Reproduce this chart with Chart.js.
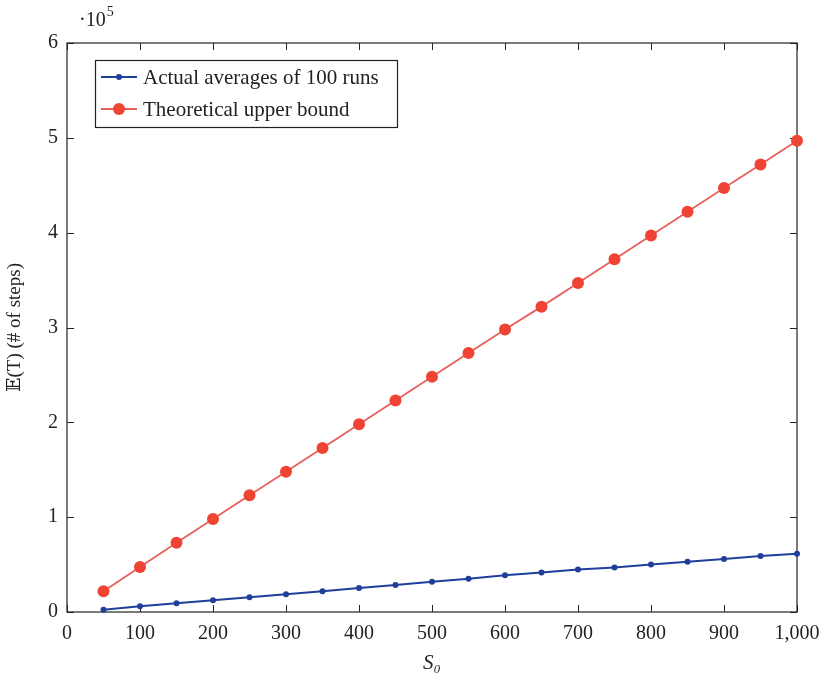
<!DOCTYPE html>
<html>
<head>
<meta charset="utf-8">
<script src="https://cdn.jsdelivr.net/npm/chart.js@4/dist/chart.umd.min.js"></script>
<style>
html,body{margin:0;padding:0;background:#fff;}
#wrap{width:822px;height:680px;position:relative;}
</style>
</head>
<body>
<div id="wrap"><canvas id="c" width="822" height="680"></canvas></div>
<script>
// ---- data ----
const s0Values = [50,100,150,200,250,300,350,400,450,500,550,600,650,700,750,800,850,900,950,1000];
const actualAverages = [2400,6000,9200,12400,15500,18600,22000,25300,28500,31800,35000,38700,41600,44700,47000,50000,53000,56000,59000,61500];
const theoreticalBound = [22000,47500,73000,98000,123000,148000,173000,198000,223000,248000,273000,298000,322000,347000,372000,397000,422000,447000,472000,497000];
const xTicks = [0,100,200,300,400,500,600,700,800,900,1000];
const yTicks = [0,100000,200000,300000,400000,500000,600000];
const seriesLabels = ['Actual averages of 100 runs','Theoretical upper bound'];

const SERIF = "'Liberation Serif','DejaVu Serif',serif";

const framePlugin = {
  id:'frame',
  beforeDatasetsDraw(chart){
    const {ctx, chartArea:a, scales:{x,y}} = chart;
    ctx.save();
    ctx.strokeStyle='#222';
    ctx.lineWidth=1.2;
    ctx.strokeRect(a.left, a.top, a.right-a.left, a.bottom-a.top);
    const L=7;
    ctx.beginPath();
    xTicks.forEach(v=>{
      const px=Math.round(x.getPixelForValue(v))+0.5;
      ctx.moveTo(px,a.bottom); ctx.lineTo(px,a.bottom-L);
      ctx.moveTo(px,a.top); ctx.lineTo(px,a.top+L);
    });
    yTicks.forEach(v=>{
      const py=Math.round(y.getPixelForValue(v))+0.5;
      ctx.moveTo(a.left,py); ctx.lineTo(a.left+L,py);
      ctx.moveTo(a.right,py); ctx.lineTo(a.right-L,py);
    });
    ctx.lineWidth=1;
    ctx.stroke();
    ctx.restore();
  },
  afterDatasetsDraw(chart){
    const {ctx, chartArea:a} = chart;
    ctx.save();
    // exponent label
    ctx.fillStyle='#222';
    ctx.textBaseline='alphabetic';
    ctx.textAlign='left';
    ctx.font='20px '+SERIF;
    ctx.fillText('\u00b710', a.left+12, 26);
    const w=ctx.measureText('\u00b710').width;
    ctx.font='14px '+SERIF;
    ctx.fillText('5', a.left+12+w+1, 16);
    // legend
    const bx=a.left+28, by=a.top+17, bw=302, bh=67;
    ctx.fillStyle='#fff';
    ctx.fillRect(bx,by,bw,bh);
    ctx.strokeStyle='#222';
    ctx.lineWidth=1.2;
    ctx.strokeRect(bx+0.5,by+0.5,bw,bh);
    chart.data.datasets.forEach((ds,i)=>{
      const cy=by+17+i*32;
      ctx.strokeStyle=ds.borderColor;
      ctx.lineWidth=ds.borderWidth;
      ctx.beginPath(); ctx.moveTo(bx+6,cy); ctx.lineTo(bx+42,cy); ctx.stroke();
      ctx.fillStyle=ds.pointBackgroundColor;
      ctx.beginPath(); ctx.arc(bx+24,cy,ds.pointRadius,0,Math.PI*2); ctx.fill();
      ctx.fillStyle='#222';
      ctx.font='21px '+SERIF;
      ctx.textBaseline='middle';
      ctx.fillText(ds.label, bx+48, cy+1);
    });
    ctx.restore();
  }
};

new Chart(document.getElementById('c'),{
  type:'line',
  data:{
    datasets:[
      {label:seriesLabels[0], data:s0Values.map((v,i)=>({x:v,y:actualAverages[i]})),
       borderColor:'#1f3f9a', backgroundColor:'#1f3f9a', pointBackgroundColor:'#1f3f9a', pointBorderColor:'#1f3f9a',
       borderWidth:2, pointRadius:3, pointBorderWidth:0, tension:0, order:1, clip:false},
      {label:seriesLabels[1], data:s0Values.map((v,i)=>({x:v,y:theoreticalBound[i]})),
       borderColor:'#e8605a', backgroundColor:'#ef4434', pointBackgroundColor:'#ef4434', pointBorderColor:'#ef4434',
       borderWidth:1.8, pointRadius:6, pointBorderWidth:0, tension:0, order:2, clip:false}
    ]
  },
  options:{
    responsive:false,
    animation:false,
    layout:{padding:{top:43,right:25,left:0,bottom:0}},
    plugins:{legend:{display:false},tooltip:{enabled:false}},
    scales:{
      x:{type:'linear',min:0,max:1000,
         afterBuildTicks:s=>{s.ticks=xTicks.map(v=>({value:v}));},
         afterFit:s=>{s.height=68;s.paddingLeft=0;s.paddingRight=0;},
         grid:{display:false,drawTicks:false},
         border:{display:false},
         ticks:{color:'#222',font:{family:SERIF,size:20},padding:10,maxRotation:0,autoSkip:false,
                callback:v=>v.toLocaleString('en-US')},
         title:{display:true,text:'S\u2080',color:'#222',font:{family:SERIF,size:21,style:'italic'},padding:{top:4}}
      },
      y:{type:'linear',min:0,max:600000,
         afterBuildTicks:s=>{s.ticks=yTicks.map(v=>({value:v}));},
         afterFit:s=>{s.width=67;s.paddingTop=0;s.paddingBottom=0;},
         grid:{display:false,drawTicks:false},
         border:{display:false},
         ticks:{color:'#222',font:{family:SERIF,size:20},padding:9,callback:v=>String(v/100000)},
         title:{display:true,text:'\ud835\udd3c(T) (# of steps)',color:'#222',font:{family:SERIF,size:19},padding:{bottom:6}}
      }
    }
  },
  plugins:[framePlugin]
});
</script>
</body>
</html>
